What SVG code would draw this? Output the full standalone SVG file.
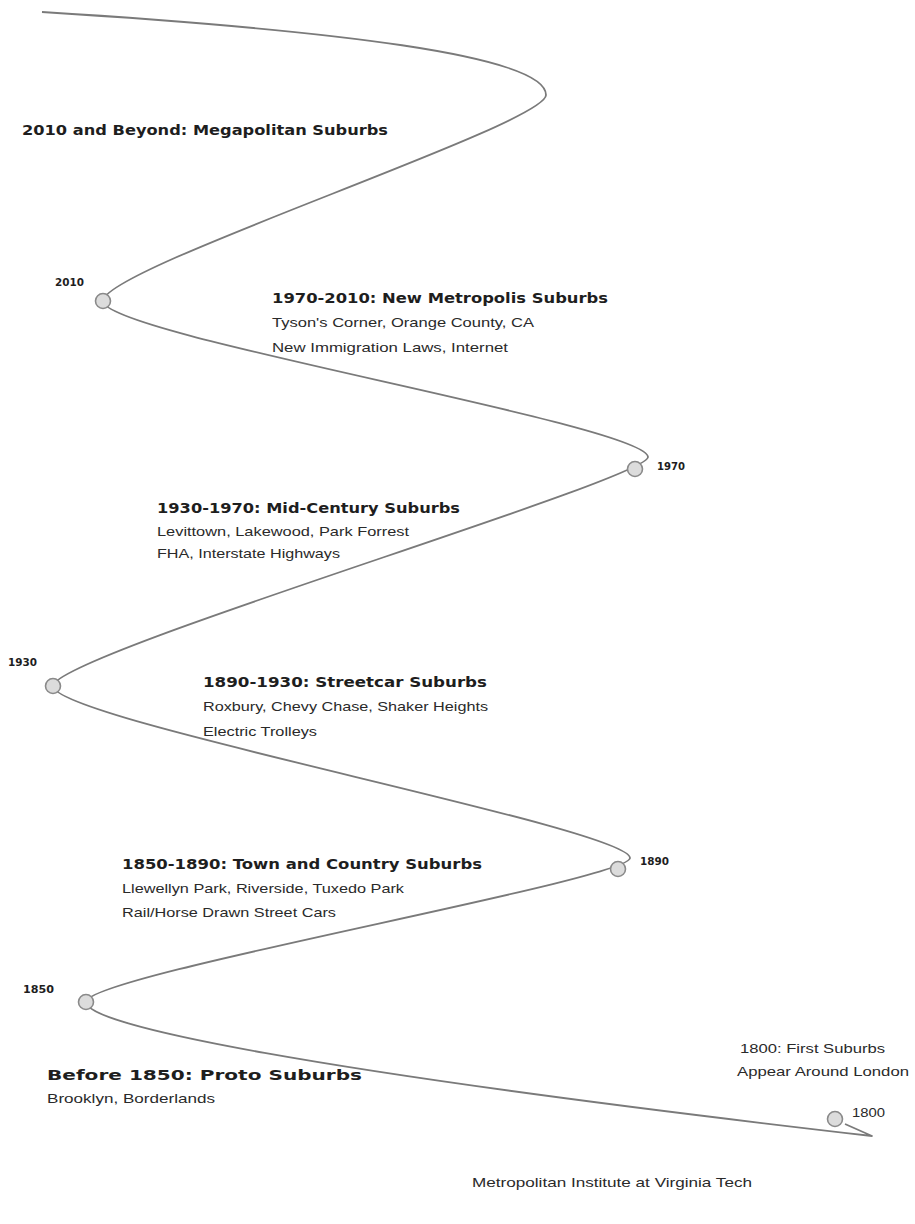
<svg xmlns="http://www.w3.org/2000/svg" width="915" height="1224" viewBox="0 0 915 1224">
<style>
.t{font-family:"DejaVu Sans","Liberation Sans",sans-serif;font-weight:bold;font-size:13.5px;fill:#1e1e1e}
.s{font-family:"Liberation Sans Narrow","Liberation Sans",sans-serif;font-size:13.5px;fill:#2a2a2a}
.y{font-family:"DejaVu Sans","Liberation Sans",sans-serif;font-weight:bold;font-size:11px;fill:#1e1e1e}
.n{fill:#dcdcdc;stroke:#8a8a8a;stroke-width:1.6}
.c{fill:none;stroke:#7a7a7a;stroke-width:1.8;stroke-linejoin:round}
</style>
<rect width="915" height="1224" fill="#fff"/>
<g id="connectors">
<path class="c" d="M42,12 C330,30 546,55 546,95 C546,125 103,268 103,301 C103,335 648,425 648,457 C648,480 53,655 53,686 C53,720 630,828 630,858 C630,880 86,975 86,1002 C86,1025 300,1070 872,1136 L845,1124"/>
</g>
<g id="era2010plus">
<text class="t" x="22" y="135" textLength="366" lengthAdjust="spacingAndGlyphs">2010 and Beyond: Megapolitan Suburbs</text>
</g>
<g id="node2010">
<circle class="n" cx="103" cy="301" r="7.5"/>
<text class="y" x="55" y="286" textLength="29" lengthAdjust="spacingAndGlyphs">2010</text>
</g>
<g id="era1970">
<text class="t" x="272" y="303" textLength="336" lengthAdjust="spacingAndGlyphs">1970-2010: New Metropolis Suburbs</text>
<text class="s" x="272" y="327" textLength="262" lengthAdjust="spacingAndGlyphs">Tyson's Corner, Orange County, CA</text>
<text class="s" x="272" y="352" textLength="236" lengthAdjust="spacingAndGlyphs">New Immigration Laws, Internet</text>
</g>
<g id="node1970">
<circle class="n" cx="635" cy="469" r="7.5"/>
<text class="y" x="657" y="470" textLength="28" lengthAdjust="spacingAndGlyphs">1970</text>
</g>
<g id="era1930">
<text class="t" x="157" y="513" textLength="303" lengthAdjust="spacingAndGlyphs">1930-1970: Mid-Century Suburbs</text>
<text class="s" x="157" y="536" textLength="252" lengthAdjust="spacingAndGlyphs">Levittown, Lakewood, Park Forrest</text>
<text class="s" x="157" y="558" textLength="183" lengthAdjust="spacingAndGlyphs">FHA, Interstate Highways</text>
</g>
<g id="node1930">
<circle class="n" cx="53" cy="686" r="7.5"/>
<text class="y" x="8" y="666" textLength="29" lengthAdjust="spacingAndGlyphs">1930</text>
</g>
<g id="era1890">
<text class="t" x="203" y="687" textLength="284" lengthAdjust="spacingAndGlyphs">1890-1930: Streetcar Suburbs</text>
<text class="s" x="203" y="711" textLength="285" lengthAdjust="spacingAndGlyphs">Roxbury, Chevy Chase, Shaker Heights</text>
<text class="s" x="203" y="736" textLength="114" lengthAdjust="spacingAndGlyphs">Electric Trolleys</text>
</g>
<g id="node1890">
<circle class="n" cx="618" cy="869" r="7.5"/>
<text class="y" x="640" y="865" textLength="29" lengthAdjust="spacingAndGlyphs">1890</text>
</g>
<g id="era1850">
<text class="t" x="122" y="869" textLength="360" lengthAdjust="spacingAndGlyphs">1850-1890: Town and Country Suburbs</text>
<text class="s" x="122" y="893" textLength="282" lengthAdjust="spacingAndGlyphs">Llewellyn Park, Riverside, Tuxedo Park</text>
<text class="s" x="122" y="917" textLength="214" lengthAdjust="spacingAndGlyphs">Rail/Horse Drawn Street Cars</text>
</g>
<g id="node1850">
<circle class="n" cx="86" cy="1002" r="7.5"/>
<text class="y" x="23" y="993" textLength="31" lengthAdjust="spacingAndGlyphs">1850</text>
</g>
<g id="eraBefore1850">
<text class="t" x="47" y="1080" textLength="315" lengthAdjust="spacingAndGlyphs">Before 1850: Proto Suburbs</text>
<text class="s" x="47" y="1103" textLength="168" lengthAdjust="spacingAndGlyphs">Brooklyn, Borderlands</text>
</g>
<g id="node1800">
<circle class="n" cx="835" cy="1119" r="7.5"/>
<text class="s" x="852" y="1117" textLength="33" lengthAdjust="spacingAndGlyphs">1800</text>
<text class="s" x="740" y="1053" textLength="145" lengthAdjust="spacingAndGlyphs">1800: First Suburbs</text>
<text class="s" x="737" y="1076" textLength="172" lengthAdjust="spacingAndGlyphs">Appear Around London</text>
</g>
<g id="footer">
<text class="s" x="472" y="1187" textLength="280" lengthAdjust="spacingAndGlyphs">Metropolitan Institute at Virginia Tech</text>
</g>
</svg>
